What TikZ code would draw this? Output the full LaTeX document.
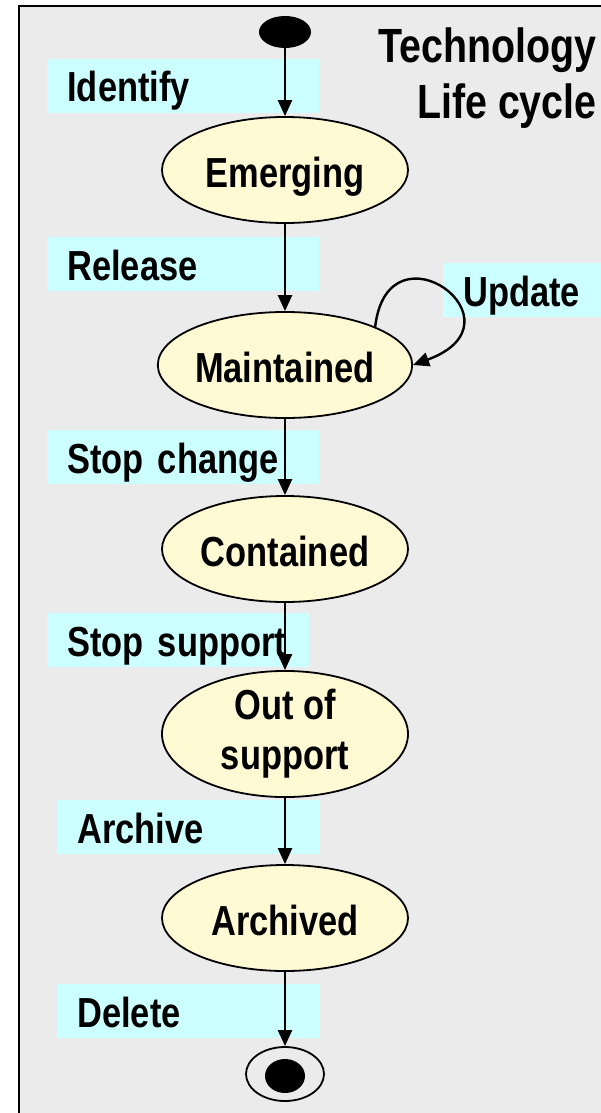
\documentclass[tikz,border=0pt]{standalone}
\usepackage{fontspec}
\setmainfont{Liberation Sans}[FakeStretch=0.82]
\usetikzlibrary{
    arrows.meta,
    shapes,
    positioning
}
\definecolor{panelgray}{HTML}{EBEBEB}
\definecolor{statefill}{HTML}{FFF9D4}
\definecolor{cuecyan}{HTML}{CCFFFF}
\tikzset{
    flowtip /.tip = {Triangle[length=8pt,width=7pt]}
  }

\begin{document}
\begin{tikzpicture}[x=0.5pt,y=-0.5pt,
    state/.style={ellipse,draw,line width=0.9pt,fill=statefill,minimum width=123pt,minimum height=53pt,inner sep=0pt,align=center,font=\fontsize{21}{25}\selectfont\bfseries},
    oneline/.style={text height=17.5pt,text depth=0pt},
    cue/.style={fill=cuecyan,anchor=west,inner xsep=10pt,inner ysep=0pt,text height=21.5pt,text depth=5.5pt,align=left,font=\fontsize{21}{25}\selectfont\bfseries},
    flow/.style={-flowtip,line width=1.2pt}]
				\useasboundingbox (0,0) rectangle (600,1113);
				\draw[line width=1.25pt,fill=panelgray] (19,6) rectangle (650,1170);
				% transition labels
				\node at (47,86) [cue,text width=116pt] (identify) {Identify};
				\node at (47,264) [cue,text width=116pt] (release) {Release};
				\node at (443,290) [cue,text width=80pt] (update) {Update};
				\node at (47,457) [cue,text width=116pt] (stopchange) {Stop change};
				\node at (47,640) [cue,text width=111pt] (stopsupport) {Stop support};
				\node at (57,827) [cue,text width=111.5pt] (archive) {Archive};
				\node at (57,1011) [cue,text width=111.5pt] (delete) {Delete};
				\node at (597,27) [anchor=north east,inner sep=0pt,align=right,font=\fontsize{24}{28}\selectfont\bfseries] (title) {Technology\\Life cycle};
				% states
				\node at (285,32) [ellipse,fill=black,minimum width=26pt,minimum height=16pt,inner sep=0pt] (start) {};
				\node at (285,170) [state,oneline] (emerging) {Emerging};
				\node at (285,365) [state,oneline] (maintained) {Maintained};
				\node at (285,549) [state,oneline] (contained) {Contained};
				\node at (285,734) [state] (outofsupport) {Out of\\support};
				\node at (285,918) [state,oneline] (archived) {Archived};
				\node at (285,1074) [ellipse,draw,line width=0.9pt,minimum width=39pt,minimum height=27pt,inner sep=0pt] (finish) {};
				\node at (285,1076) [ellipse,fill=black,minimum width=20pt,minimum height=17pt,inner sep=0pt] (finishdot) {};
				\foreach \a/\b in {start/emerging,emerging/maintained,maintained/contained,contained/outofsupport,outofsupport/archived,archived/finish}
					\draw[flow] (\a) -- (\b);
				\draw[flow] (maintained.23) .. controls (388,218) and (530,322) .. (maintained.east);
			\end{tikzpicture}
\end{document}
